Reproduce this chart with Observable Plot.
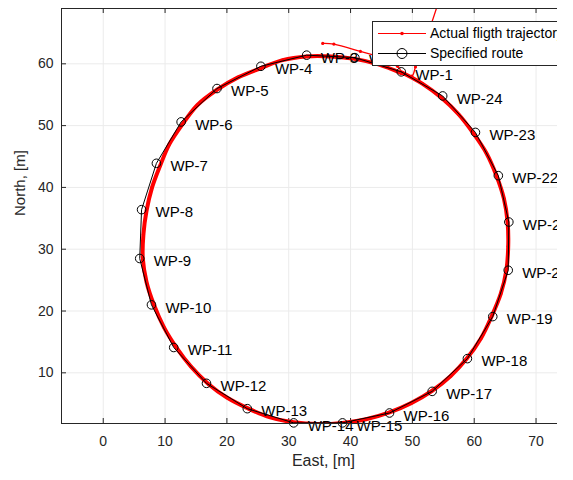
<!DOCTYPE html>
<html>
<head>
<meta charset="utf-8">
<script src="https://cdn.jsdelivr.net/npm/d3@7"></script>
<script src="https://cdn.jsdelivr.net/npm/@observablehq/plot@0.6"></script>
<style>
  html, body { margin: 0; padding: 0; background: #fff; overflow: hidden; }
  #wrap { position: relative; width: 557px; height: 480px; overflow: hidden; background: #fff;
          font-family: "Liberation Sans", Arial, sans-serif; }
  #wrap > svg { max-width: none !important; display: block; }
  #legend { position: absolute; left: 372px; top: 21px; width: 260px; height: 43px;
            background: #fff; border: 1px solid #262626; }
  #legend svg { display: block; }
</style>
</head>
<body>
<div id="wrap"></div>
<script>
// Specified route: waypoints WP-1 ... WP-24 (East, North in metres)
const wpEast  = [48.2, 40.7, 32.9, 25.5, 18.4, 12.6, 8.6, 6.2, 5.9, 7.8, 11.4, 16.7,
                 23.3, 30.8, 38.7, 46.3, 53.2, 58.9, 63.0, 65.5, 65.6, 63.9, 60.2, 54.9];
const wpNorth = [58.7, 61.0, 61.4, 59.6, 56.0, 50.6, 43.9, 36.4, 28.5, 21.0, 14.1, 8.3,
                 4.2, 1.9, 1.9, 3.5, 7.0, 12.3, 19.1, 26.6, 34.4, 41.9, 48.9, 54.8];

// Actual flight trajectory: approach from the north-east, one loop, then exit
const approachEast  = [54.0, 52.9, 51.6, 50.5, 49.9];
const approachNorth = [69.3, 66.0, 62.5, 59.5, 58.0];
const loopEast  = [48.2, 44.5, 40.7, 36.8, 32.9, 29.0, 25.5, 21.8, 18.4, 15.2, 12.8, 10.7,
                   9.2, 7.9, 7.0, 6.5, 6.4, 7.0, 8.2, 9.8, 11.9, 14.2, 17.0, 20.0, 23.5,
                   27.0, 30.8, 34.7, 38.7, 42.5, 46.3, 49.8, 53.2, 56.2, 58.8, 61.1, 62.8,
                   64.3, 65.2, 65.5, 65.4, 64.8, 63.6, 62.0, 59.9, 57.5, 54.7, 51.6, 48.3];
const loopNorth = [58.5, 59.9, 60.8, 61.2, 61.2, 60.6, 59.3, 57.8, 55.8, 53.3, 50.2, 47.0,
                   43.5, 40.0, 36.2, 32.4, 28.5, 24.7, 21.0, 17.4, 14.0, 11.0, 8.2, 6.0, 4.2,
                   2.8, 2.0, 1.7, 1.9, 2.5, 3.6, 5.1, 7.1, 9.5, 12.3, 15.6, 19.1, 22.8,
                   26.6, 30.5, 34.4, 38.2, 41.9, 45.5, 48.7, 51.8, 54.5, 56.8, 58.6];
const exitEast  = [48.3, 47.6, 44.9, 41.6, 37.3, 35.5];
const exitNorth = [58.6, 59.6, 61.0, 62.0, 63.2, 63.3];

// Axis ticks
const xTicks = [0, 10, 20, 30, 40, 50, 60, 70];
const yTicks = [10, 20, 30, 40, 50, 60];

const waypoints = wpEast.map((e, i) => ({east: e, north: wpNorth[i], name: `WP-${i + 1}`}));
const route = [...waypoints, waypoints[0]];
const toPts = (es, ns) => es.map((e, i) => ({east: e, north: ns[i]}));
const loop = toPts(loopEast, loopNorth);
const trajectory = [...toPts(approachEast, approachNorth), ...loop, ...toPts(exitEast, exitNorth)];

const ink = "#262626";
const red = "#ff0000";
const frameH = 415, frameW = 524;

const chart = Plot.plot({
  width: 590, height: 480,
  marginLeft: 61, marginRight: 5, marginTop: 8, marginBottom: 57,
  x: {domain: [-6.75, 78.0]},
  y: {domain: [1.8, 68.95]},
  style: {fontFamily: "'Liberation Sans', Arial, sans-serif", fontSize: "14px", color: ink, background: "#fff"},
  marks: [
    Plot.gridX(xTicks, {stroke: "#ebebeb", strokeOpacity: 1}),
    Plot.gridY(yTicks, {stroke: "#ebebeb", strokeOpacity: 1}),
    Plot.axisX(xTicks, {tickSize: 0, tickPadding: 13, label: null, fill: ink}),
    Plot.axisY(yTicks, {tickSize: 0, tickPadding: 8, label: null, fill: ink}),
    // inward tick marks (bottom, top, left)
    Plot.tickX(xTicks, {x: d => d, insetTop: frameH - 5, stroke: ink}),
    Plot.tickX(xTicks, {x: d => d, insetBottom: frameH - 5, stroke: ink}),
    Plot.tickY(yTicks, {y: d => d, insetRight: frameW - 5, stroke: ink}),
    // flight trajectory
    Plot.line(trajectory, {x: "east", y: "north", stroke: red, strokeWidth: 1.3, curve: "catmull-rom", clip: true}),
    Plot.line(loop, {x: "east", y: "north", stroke: red, strokeWidth: 4, curve: "catmull-rom", clip: true}),
    Plot.dot(trajectory, {x: "east", y: "north", r: 1.6, fill: red, clip: true}),
    // specified route
    Plot.line(route, {x: "east", y: "north", stroke: "#000", strokeWidth: 1}),
    Plot.dot(waypoints, {x: "east", y: "north", r: 4.3, stroke: "#000", strokeWidth: 1, fill: "none"}),
    Plot.text(waypoints, {x: "east", y: "north", text: "name", dx: 14, dy: 3, textAnchor: "start", fontSize: 15, fill: "#000"}),
    Plot.frame({stroke: ink}),
    Plot.text(["East, [m]"], {frameAnchor: "bottom", text: d => d, dy: 42, fontSize: 16, fill: ink}),
    Plot.text(["North, [m]"], {frameAnchor: "left", text: d => d, dx: -41, rotate: -90, fontSize: 15, fill: ink})
  ]
});
chart.style.maxWidth = "none";

const wrap = document.getElementById("wrap");
wrap.appendChild(chart);

// Legend box
const legend = document.createElement("div");
legend.id = "legend";
legend.innerHTML = `
<svg width="260" height="43" font-family="'Liberation Sans', Arial, sans-serif" font-size="14">
  <line x1="5" x2="53" y1="11.5" y2="11.5" stroke="${red}" stroke-width="1.2"/>
  <circle cx="29" cy="11.5" r="1.8" fill="${red}"/>
  <text x="57" y="11.5" dy="0.35em" fill="#000">Actual fligth trajectory</text>
  <line x1="5" x2="53" y1="31.5" y2="31.5" stroke="#000" stroke-width="1"/>
  <circle cx="29" cy="31.5" r="5" fill="none" stroke="#000"/>
  <text x="57" y="31.5" dy="0.35em" fill="#000">Specified route</text>
</svg>`;
wrap.appendChild(legend);
</script>
</body>
</html>
